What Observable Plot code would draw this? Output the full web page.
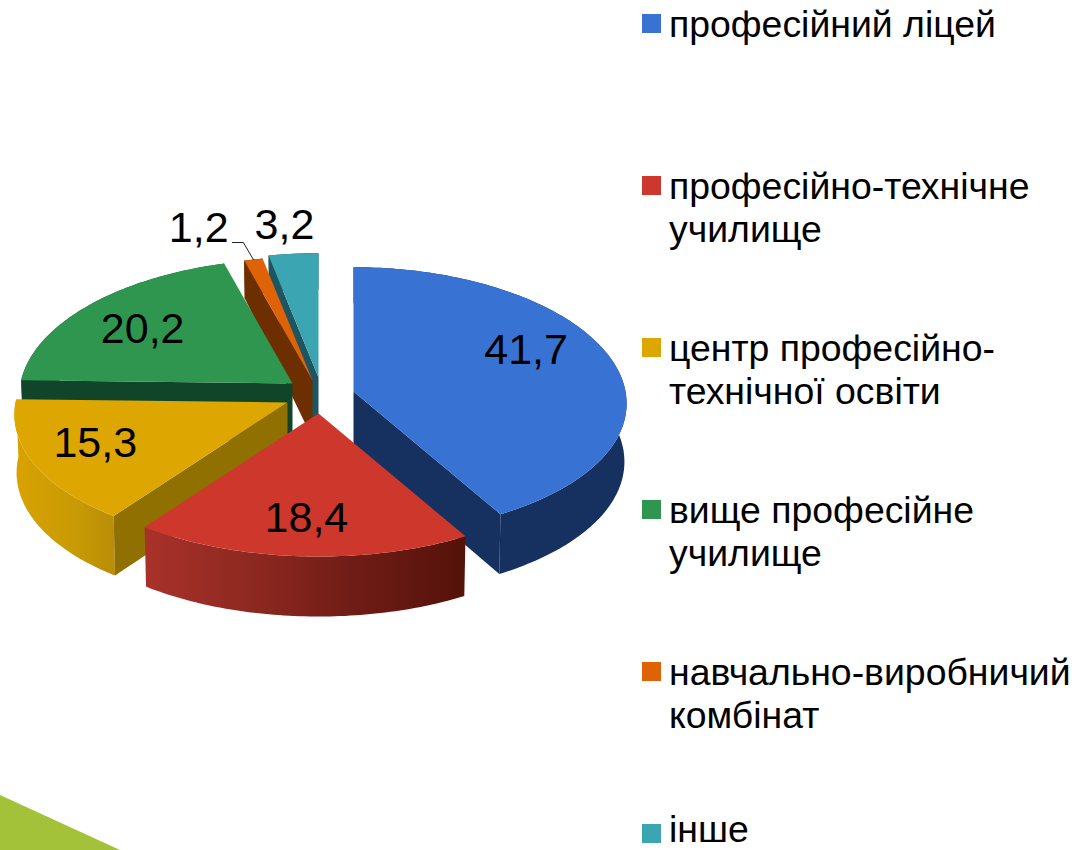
<!DOCTYPE html>
<html>
<head>
<meta charset="utf-8">
<script src="https://cdn.jsdelivr.net/npm/d3@7"></script>
<script src="https://cdn.jsdelivr.net/npm/@observablehq/plot@0.6"></script>
<style>
html,body{margin:0;padding:0;background:#fff;width:1077px;height:850px;overflow:hidden}
#wrap{position:relative;width:1077px;height:850px;font-family:"Liberation Sans",Arial,sans-serif;color:#000}
#corner{position:absolute;left:0;top:795px;width:120px;height:55px;background:#a3c239;clip-path:polygon(0 0,100% 100%,0 100%)}
#chart{position:absolute;left:0;top:0}
#legend{position:absolute;left:642px;top:0;width:435px}
.item{position:absolute;left:0;width:435px;height:100px}
.sw{position:absolute;left:0;top:0;width:19px;height:19px}
.tx{position:absolute;left:27px;top:-11px;font-size:37.4px;line-height:43px;white-space:nowrap}
.item:last-child{height:26px}
.item:last-child .tx{top:-10px;line-height:31px}
</style>
</head>
<body>
<div id="wrap"><div id="corner"></div><div id="chart"></div><div id="legend"></div></div>
<script>
// data
const categories = ["професійний ліцей","професійно-технічне\nучилище","центр професійно-\nтехнічної освіти","вище професійне\nучилище","навчально-виробничий\nкомбінат","інше"];
const values = [41.7,18.4,15.3,20.2,1.2,3.2];
// styles
const topColors  = ["#3873d3","#cd372c","#dda600","#2f9650","#e06207","#3ba5b2"];
const wallFills  = ["#16315f","url(#redWall)","url(#yellowWall)","#10452a","#6d2e00","#1d5560"];
const faceFills  = ["#16315f","#7a2018","#8f7000","#10452a","#6d2e00","#1d5560"];
// layout: exploded centre of each slice, draw order, pie projection
const centreX = [353,318,287,292,312,318];
const centreY = [391,413,402,383,380,377];
const drawOrder = [5,4,3,2,0,1];
const radiusX = 272, radiusY = 133, perspX = 0.09, perspY = 0.07, taper = 0.992;
const labelFraction = 0.62;
const nudgeX = [12,-2,-37,-21,-76,-18];
const nudgeY = [-20,19,4,-5,-75,-74];

const total = d3.sum(values);
const cum = d3.cumsum(values);
const startDeg = i => (i ? cum[i-1] : 0) / total * 360;
const endDeg = i => cum[i] / total * 360;
function unit(deg, f=1){ const t = deg*Math.PI/180; return [f*Math.sin(t), -f*Math.cos(t)]; }
function proj(deg, f=1){ const [X,Y] = unit(deg,f); return [radiusX*X/(1-perspX*Y), radiusY*Y/(1-perspY*Y), Y]; }
const depth = Y => Y >= 0 ? 58 + 2*Y : 58 - 22*Y*Y;
function topPt(i,deg){ const [x,y] = proj(deg); return {x:centreX[i]+x, y:centreY[i]+y}; }
function botPt(i,deg){ const [x,y,Y] = proj(deg); return {x:centreX[i]+x*taper, y:centreY[i]+y+depth(Y)}; }
const apexTop = i => ({x:centreX[i], y:centreY[i]});
const apexBot = i => ({x:centreX[i], y:centreY[i]+depth(0)});
function arcDegs(i){ const a=startDeg(i), b=endDeg(i), n=Math.max(2,Math.ceil(b-a)); return d3.range(n+1).map(k=>a+(b-a)*k/n); }

const poly = (pts, fill) => Plot.line(pts,{x:"x",y:"y",fill,stroke:"none",curve:"linear-closed"});
const marks = [];
marks.push(() => {
  const defs = d3.create("svg:defs");
  const grad = (id, stops) => {
    const g = defs.append("linearGradient").attr("id",id).attr("x1",0).attr("x2",1).attr("y1",0).attr("y2",0);
    stops.forEach(([o,c])=>g.append("stop").attr("offset",o).attr("stop-color",c));
  };
  grad("redWall",[[0,"#a8322a"],[0.35,"#8c2820"],[0.65,"#701c16"],[1,"#541209"]]);
  grad("yellowWall",[[0,"#d9a300"],[0.6,"#c89a05"],[1,"#b98d05"]]);
  return defs.node();
});
for (const i of drawOrder) {
  const degs = arcDegs(i);
  // outer wall
  marks.push(poly([...degs.map(d=>topPt(i,d)), ...degs.slice().reverse().map(d=>botPt(i,d))], wallFills[i]));
  // radial faces that look towards the viewer
  const a = startDeg(i), b = endDeg(i);
  const startNormalY = -Math.sin(a*Math.PI/180);
  const endNormalY = Math.sin(b*Math.PI/180);
  if (startNormalY > 0.01) marks.push(poly([apexTop(i),topPt(i,a),botPt(i,a),apexBot(i)], faceFills[i]));
  if (endNormalY > 0.01) marks.push(poly([apexTop(i),topPt(i,b),botPt(i,b),apexBot(i)], faceFills[i]));
  // top face
  marks.push(poly([apexTop(i), ...degs.map(d=>topPt(i,d))], topColors[i]));
}
// leader for the smallest slice
const smallest = values.indexOf(d3.min(values));
const rim = topPt(smallest,(startDeg(smallest)+endDeg(smallest))/2);
marks.push(Plot.line([rim,{x:rim.x-10,y:rim.y-17},{x:rim.x-21,y:rim.y-17}],{x:"x",y:"y",stroke:"#222",strokeWidth:1}));
// value labels
const labels = values.map((v,i)=>{
  const [x,y] = proj((startDeg(i)+endDeg(i))/2,labelFraction);
  return {x:centreX[i]+x+nudgeX[i], y:centreY[i]+y+nudgeY[i], text:String(v).replace(".",",")};
});
marks.push(Plot.text(labels,{x:"x",y:"y",text:"text",fontSize:43,fontFamily:"Liberation Sans, Arial, sans-serif",fill:"#000",textAnchor:"middle",lineAnchor:"middle"}));

const plot = Plot.plot({
  width:1077,height:850,margin:0,
  x:{domain:[0,1077],range:[0,1077],axis:null},
  y:{domain:[0,850],range:[0,850],axis:null},
  style:{background:"transparent",overflow:"visible"},
  marks
});
document.getElementById("chart").appendChild(plot);

// legend
const legend = d3.select("#legend");
const legendTop = 14, legendStep = 162;
categories.forEach((c,i)=>{
  const it = legend.append("div").attr("class","item").style("top",(legendTop+legendStep*i)+"px");
  it.append("div").attr("class","sw").style("background",topColors[i]);
  const tx = it.append("div").attr("class","tx");
  c.split("\n").forEach(l=>tx.append("div").text(l));
});
</script>
</body>
</html>
